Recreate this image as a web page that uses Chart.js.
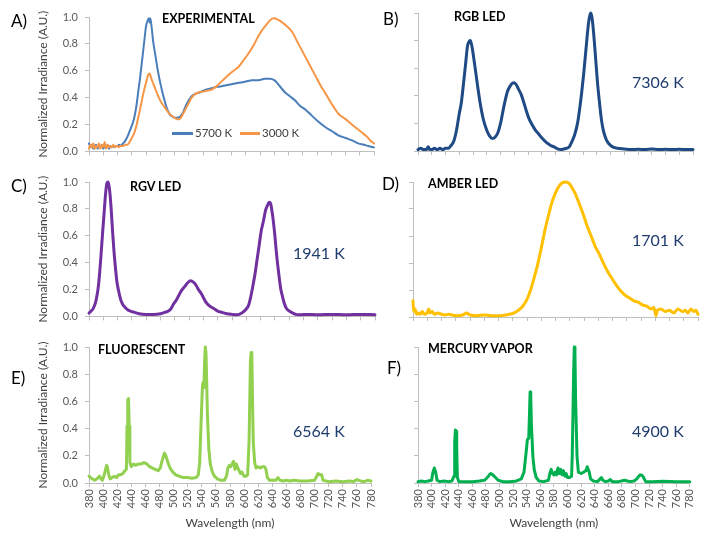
<!DOCTYPE html>
<html>
<head>
<meta charset="utf-8">
<script src="https://cdn.jsdelivr.net/npm/chart.js@4.4.1/dist/chart.umd.min.js"></script>
<style>
  body { margin: 0; background: #fff; }
  #wrap { position: relative; width: 705px; height: 540px; overflow: hidden; font-family: Lato, "Open Sans", sans-serif; }
  canvas { position: absolute; }
  .t { position: absolute; white-space: nowrap; line-height: 1; }
  .tag { font-size: 17px; color: #000; }
  .name { font-size: 12.5px; font-weight: bold; color: #000; }
  .cct { font-size: 16px; color: #1f3c6e; }
  .leg { font-size: 11.5px; color: #404040; }
  .sw { position: absolute; height: 3px; }
</style>
</head>
<body>
<div id="wrap">
  <canvas id="cA" width="390" height="165" style="left:0;top:0"></canvas>
  <canvas id="cB" width="345" height="165" style="left:360px;top:0"></canvas>
  <canvas id="cC" width="390" height="165" style="left:0;top:165px"></canvas>
  <canvas id="cD" width="345" height="165" style="left:360px;top:165px"></canvas>
  <canvas id="cE" width="390" height="210" style="left:0;top:330px"></canvas>
  <canvas id="cF" width="345" height="210" style="left:360px;top:330px"></canvas>

  <div class="t tag" style="left:11px;top:12px">A)</div>
  <div class="t tag" style="left:383px;top:10px">B)</div>
  <div class="t tag" style="left:11px;top:177px">C)</div>
  <div class="t tag" style="left:382px;top:175px">D)</div>
  <div class="t tag" style="left:11px;top:369px">E)</div>
  <div class="t tag" style="left:387px;top:359px">F)</div>

  <div class="t name" style="left:162px;top:13px">EXPERIMENTAL</div>
  <div class="t name" style="left:454px;top:11px">RGB LED</div>
  <div class="t name" style="left:130px;top:181px">RGV LED</div>
  <div class="t name" style="left:428px;top:178px">AMBER LED</div>
  <div class="t name" style="left:98px;top:344px">FLUORESCENT</div>
  <div class="t name" style="left:428px;top:343px">MERCURY VAPOR</div>

  <div class="t cct" style="left:632px;top:74px">7306 K</div>
  <div class="t cct" style="left:293px;top:245px">1941 K</div>
  <div class="t cct" style="left:632px;top:232px">1701 K</div>
  <div class="t cct" style="left:293px;top:423px">6564 K</div>
  <div class="t cct" style="left:632px;top:423px">4900 K</div>

  <div class="sw" style="left:172px;top:132px;width:21px;background:#4a7ebb"></div>
  <div class="t leg" style="left:195px;top:127px">5700 K</div>
  <div class="sw" style="left:240px;top:132px;width:20px;background:#f79646"></div>
  <div class="t leg" style="left:262px;top:127px">3000 K</div>
</div>
<script>
// wavelengths in nm, irradiance normalised to 1

// A) experimental lamp, 5700 K
const wlA5700 = [
  380, 382, 384, 386, 388, 390, 392, 394, 396, 398,
  400, 402, 404, 406, 408, 410, 412, 414, 416, 418,
  420, 422, 424, 426, 428, 431, 434, 437, 440, 443,
  446, 449, 452, 455, 458, 460, 462, 464, 465, 466,
  468, 470, 473, 476, 480, 484, 487, 490, 494, 497,
  500, 504, 508, 512, 515, 520, 524, 530, 536, 544,
  552, 560, 571, 580, 590, 600, 609, 618, 627, 634,
  640, 644, 650, 655, 662, 669, 676, 684, 692, 702,
  712, 721, 730, 740, 750, 758, 766, 772, 780
];
const irrA5700 = [
  0.06, 0.03, 0.05, 0.02, 0.04, 0.05, 0.02, 0.04, 0.03, 0.05,
  0.02, 0.04, 0.03, 0.05, 0.02, 0.04, 0.03, 0.04, 0.03, 0.04,
  0.04, 0.05, 0.04, 0.05, 0.06, 0.08, 0.11, 0.15, 0.19, 0.24,
  0.32, 0.44, 0.56, 0.70, 0.84, 0.93, 0.97, 0.99, 0.96, 0.99,
  0.92, 0.82, 0.72, 0.62, 0.51, 0.42, 0.36, 0.31, 0.27, 0.26,
  0.25, 0.25, 0.26, 0.29, 0.33, 0.38, 0.41, 0.43, 0.44, 0.46,
  0.47, 0.48, 0.49, 0.50, 0.51, 0.52, 0.53, 0.53, 0.54, 0.54,
  0.53, 0.51, 0.47, 0.44, 0.41, 0.38, 0.34, 0.31, 0.27, 0.22,
  0.18, 0.15, 0.12, 0.10, 0.08, 0.06, 0.05, 0.04, 0.03
];

// A) experimental lamp, 3000 K
const wlA3000 = [
  380, 382, 384, 386, 388, 390, 392, 394, 396, 398,
  400, 402, 404, 406, 408, 410, 412, 414, 416, 418,
  420, 422, 424, 426, 428, 431, 434, 437, 440, 443,
  446, 449, 452, 455, 458, 461, 463, 465, 467, 469,
  472, 475, 478, 482, 486, 490, 495, 500, 504, 507,
  511, 515, 520, 524, 530, 536, 544, 552, 558, 564,
  570, 576, 583, 590, 597, 604, 611, 618, 624, 630,
  635, 639, 645, 651, 658, 665, 672, 679, 688, 698,
  705, 712, 721, 730, 740, 749, 756, 763, 770, 775,
  780
];
const irrA3000 = [
  0.02, 0.05, 0.03, 0.06, 0.02, 0.04, 0.03, 0.06, 0.02, 0.05,
  0.03, 0.07, 0.02, 0.05, 0.03, 0.04, 0.03, 0.05, 0.03, 0.04,
  0.04, 0.03, 0.04, 0.04, 0.04, 0.05, 0.05, 0.07, 0.10, 0.13,
  0.18, 0.25, 0.32, 0.40, 0.47, 0.53, 0.57, 0.58, 0.55, 0.52,
  0.48, 0.44, 0.40, 0.36, 0.33, 0.30, 0.27, 0.25, 0.24, 0.24,
  0.27, 0.31, 0.36, 0.40, 0.43, 0.44, 0.45, 0.46, 0.48, 0.51,
  0.54, 0.57, 0.60, 0.63, 0.68, 0.73, 0.79, 0.86, 0.91, 0.95,
  0.98, 0.99, 0.98, 0.96, 0.93, 0.89, 0.82, 0.75, 0.66, 0.56,
  0.49, 0.43, 0.35, 0.28, 0.24, 0.20, 0.17, 0.14, 0.11, 0.08,
  0.06
];

// B) RGB LED
const wlRGB = [
  380, 384, 388, 392, 395, 397, 400, 404, 408, 412,
  416, 420, 424, 428, 432, 436, 440, 443, 446, 449,
  452, 454, 456, 458, 460, 462, 464, 467, 471, 475,
  480, 484, 488, 492, 496, 500, 504, 507, 510, 514,
  517, 520, 523, 526, 530, 534, 537, 541, 546, 551,
  556, 561, 567, 573, 578, 583, 588, 592, 596, 600,
  604, 608, 612, 615, 618, 621, 624, 627, 629, 631,
  633, 635, 637, 639, 641, 644, 647, 650, 654, 658,
  663, 670, 680, 690, 700, 710, 720, 730, 740, 750,
  760, 770, 780
];
const irrRGB = [
  0.01, 0.02, 0.01, 0.01, 0.03, 0.01, 0.01, 0.02, 0.01, 0.02,
  0.01, 0.02, 0.02, 0.04, 0.07, 0.15, 0.27, 0.35, 0.48, 0.62,
  0.76, 0.79, 0.80, 0.77, 0.71, 0.64, 0.57, 0.46, 0.33, 0.23,
  0.15, 0.11, 0.09, 0.10, 0.13, 0.20, 0.30, 0.37, 0.43, 0.47,
  0.49, 0.495, 0.48, 0.45, 0.41, 0.35, 0.30, 0.24, 0.19, 0.15,
  0.12, 0.09, 0.06, 0.04, 0.03, 0.015, 0.01, 0.015, 0.02, 0.03,
  0.07, 0.12, 0.20, 0.30, 0.42, 0.56, 0.72, 0.88, 0.96, 1.0,
  0.97, 0.88, 0.76, 0.63, 0.50, 0.35, 0.22, 0.14, 0.08, 0.05,
  0.03, 0.02, 0.015, 0.01, 0.012, 0.01, 0.015, 0.01, 0.012, 0.01,
  0.012, 0.01, 0.01
];

// C) RGV LED
const wlRGV = [
  380, 383, 386, 389, 391, 393, 395, 397, 399, 401,
  403, 405, 407, 409, 411, 413, 415, 417, 419, 421,
  424, 427, 430, 434, 438, 444, 450, 460, 470, 480,
  486, 491, 495, 498, 502, 505, 509, 512, 515, 518,
  522, 526, 530, 533, 537, 540, 543, 548, 554, 560,
  566, 573, 580, 586, 590, 595, 599, 603, 606, 609,
  612, 615, 618, 621, 624, 627, 630, 632, 634, 636,
  638, 640, 642, 644, 646, 648, 651, 653, 656, 660,
  665, 669, 675, 685, 700, 720, 740, 760, 780
];
const irrRGV = [
  0.025, 0.04, 0.06, 0.10, 0.15, 0.22, 0.33, 0.47, 0.62, 0.76,
  0.90, 0.99, 1.0, 0.93, 0.80, 0.63, 0.48, 0.36, 0.26, 0.20,
  0.13, 0.09, 0.07, 0.05, 0.04, 0.03, 0.02, 0.015, 0.015, 0.02,
  0.03, 0.04, 0.06, 0.09, 0.12, 0.15, 0.19, 0.21, 0.23, 0.25,
  0.265, 0.255, 0.23, 0.20, 0.17, 0.14, 0.11, 0.08, 0.06, 0.04,
  0.03, 0.02, 0.015, 0.012, 0.015, 0.03, 0.05, 0.08, 0.14, 0.22,
  0.31, 0.42, 0.53, 0.64, 0.71, 0.79, 0.83, 0.85, 0.84, 0.78,
  0.70, 0.60, 0.48, 0.38, 0.29, 0.21, 0.14, 0.10, 0.06, 0.04,
  0.025, 0.015, 0.012, 0.015, 0.012, 0.015, 0.012, 0.015, 0.012
];

// D) amber LED
const wlAmber = [
  380, 381, 383, 385, 388, 390, 393, 396, 400, 402,
  404, 407, 410, 415, 420, 425, 430, 440, 450, 455,
  460, 470, 480, 490, 500, 510, 516, 522, 528, 534,
  540, 545, 550, 555, 560, 565, 570, 575, 580, 585,
  590, 595, 599, 603, 608, 614, 619, 624, 630, 636,
  642, 648, 654, 660, 666, 672, 678, 684, 690, 696,
  702, 708, 714, 718, 721, 723, 728, 734, 740, 746,
  752, 758, 762, 766, 770, 774, 777, 780
];
const irrAmber = [
  0.12, 0.04, 0.06, 0.02, 0.03, 0.02, 0.04, 0.02, 0.03, 0.06,
  0.03, 0.04, 0.02, 0.03, 0.02, 0.015, 0.02, 0.01, 0.015, 0.03,
  0.015, 0.01, 0.015, 0.01, 0.01, 0.015, 0.02, 0.03, 0.05, 0.08,
  0.13, 0.20, 0.29, 0.39, 0.51, 0.64, 0.75, 0.85, 0.92, 0.97,
  0.995, 1.0, 0.99, 0.96, 0.91, 0.83, 0.76, 0.68, 0.60, 0.52,
  0.46, 0.39, 0.33, 0.28, 0.23, 0.19, 0.16, 0.14, 0.12, 0.11,
  0.09, 0.08, 0.06, 0.07, 0.01, 0.05, 0.06, 0.04, 0.05, 0.03,
  0.06, 0.04, 0.05, 0.03, 0.06, 0.04, 0.05, 0.02
];

// E) fluorescent
const wlFluo = [
  380, 382, 385, 388, 391, 393, 395, 397, 399, 401,
  403, 405, 406, 408, 410, 413, 416, 419, 422, 425,
  428, 431, 433, 434, 435, 436, 437, 438, 440, 443,
  446, 450, 454, 458, 462, 466, 470, 474, 478, 481,
  484, 487, 489, 492, 495, 499, 503, 508, 514, 520,
  526, 532, 535, 537, 539, 541, 542, 543, 544, 545,
  546, 548, 550, 552, 555, 558, 562, 567, 572, 575,
  577, 579, 581, 583, 585, 587, 589, 591, 593, 595,
  597, 600, 603, 605, 607, 609, 610, 611, 612, 613,
  615, 617, 620, 623, 626, 629, 631, 633, 636, 640,
  645, 648, 651, 655, 660, 665, 670, 680, 690, 700,
  703, 705, 708, 710, 712, 720, 730, 740, 750, 755,
  760, 765, 770, 775, 780
];
const irrFluo = [
  0.05, 0.04, 0.03, 0.02, 0.03, 0.04, 0.05, 0.03, 0.02, 0.05,
  0.09, 0.13, 0.12, 0.06, 0.03, 0.04, 0.05, 0.04, 0.06, 0.06,
  0.07, 0.09, 0.10, 0.42, 0.61, 0.62, 0.42, 0.15, 0.12, 0.14,
  0.13, 0.14, 0.14, 0.15, 0.14, 0.12, 0.11, 0.10, 0.09, 0.11,
  0.17, 0.22, 0.20, 0.15, 0.11, 0.08, 0.06, 0.05, 0.04, 0.04,
  0.035, 0.04, 0.06, 0.15, 0.45, 0.72, 0.74, 0.70, 0.90, 1.0,
  0.95, 0.50, 0.25, 0.14, 0.08, 0.05, 0.03, 0.02, 0.02, 0.05,
  0.11, 0.13, 0.12, 0.14, 0.16, 0.10, 0.14, 0.11, 0.09, 0.07,
  0.08, 0.05, 0.05, 0.06, 0.30, 0.90, 0.96, 0.93, 0.60, 0.30,
  0.15, 0.11, 0.12, 0.11, 0.12, 0.12, 0.10, 0.04, 0.02, 0.02,
  0.02, 0.04, 0.02, 0.015, 0.02, 0.015, 0.02, 0.015, 0.015, 0.02,
  0.05, 0.07, 0.06, 0.06, 0.02, 0.01, 0.015, 0.01, 0.015, 0.01,
  0.025, 0.015, 0.01, 0.02, 0.015
];

// F) mercury vapor
const wlHg = [
  380, 385, 390, 395, 400, 402, 404, 405, 406, 408,
  412, 418, 425, 430, 433, 434, 435, 436, 437, 438,
  440, 450, 460, 470, 478, 482, 485, 487, 490, 494,
  498, 505, 515, 525, 532, 536, 539, 541, 543, 544,
  545, 546, 547, 549, 551, 554, 558, 565, 572, 574,
  576, 578, 580, 582, 584, 586, 588, 590, 592, 594,
  596, 598, 600, 603, 606, 607, 609, 610, 611, 612,
  614, 616, 620, 624, 627, 629, 630, 632, 634, 638,
  644, 648, 650, 652, 656, 660, 663, 666, 675, 684,
  688, 692, 698, 702, 705, 707, 710, 712, 715, 725,
  740, 760, 780
];
const irrHg = [
  0.01, 0.015, 0.01, 0.015, 0.02, 0.08, 0.11, 0.11, 0.08, 0.02,
  0.01, 0.015, 0.01, 0.015, 0.05, 0.30, 0.39, 0.38, 0.25, 0.04,
  0.01, 0.01, 0.01, 0.015, 0.02, 0.04, 0.06, 0.07, 0.06, 0.04,
  0.02, 0.01, 0.01, 0.015, 0.03, 0.08, 0.22, 0.32, 0.33, 0.50,
  0.67, 0.62, 0.42, 0.20, 0.10, 0.04, 0.015, 0.01, 0.02, 0.07,
  0.10, 0.07, 0.06, 0.08, 0.06, 0.11, 0.07, 0.10, 0.06, 0.09,
  0.05, 0.07, 0.04, 0.04, 0.05, 0.20, 0.80, 1.0, 0.95, 0.60,
  0.20, 0.08, 0.07, 0.08, 0.09, 0.12, 0.12, 0.08, 0.03, 0.015,
  0.01, 0.03, 0.04, 0.02, 0.01, 0.015, 0.025, 0.01, 0.01, 0.02,
  0.015, 0.01, 0.015, 0.03, 0.05, 0.06, 0.055, 0.04, 0.01, 0.01,
  0.012, 0.01, 0.01
];

Chart.defaults.font.family = 'Lato';
const axisGrey = '#bfbfbf';

function series(wl, vals, color, width, smooth, order) {
  return {
    data: wl.map((x, i) => ({ x: x, y: vals[i] })),
    borderColor: color,
    borderWidth: width,
    fill: false,
    pointRadius: 0,
    cubicInterpolationMode: smooth ? 'monotone' : 'default',
    tension: 0,
    order: order || 0,
    clip: 4
  };
}

// box: padding around the plot and the fixed axis sizes, so the plot lands where the figure has it
function panel(id, sets, box) {
  return new Chart(document.getElementById(id), {
    type: 'line',
    data: { datasets: sets },
    options: {
      responsive: false,
      animation: false,
      events: [],
      layout: { padding: { left: box.left, right: box.right, top: box.top, bottom: 0 } },
      plugins: { legend: { display: false }, tooltip: { enabled: false } },
      elements: { line: { borderJoinStyle: 'round', borderCapStyle: 'round' } },
      scales: {
        x: {
          type: 'linear',
          min: 380,
          max: 780,
          afterFit: function (s) { s.height = box.xh; },
          grid: { drawOnChartArea: false, tickLength: 4, color: axisGrey },
          border: { color: axisGrey },
          ticks: {
            stepSize: 20, autoSkip: false, display: box.xlab,
            minRotation: 90, maxRotation: 90, padding: 2,
            color: '#595959', font: { size: 11 }
          },
          title: {
            display: box.xlab, text: 'Wavelength (nm)', color: '#404040',
            font: { size: 12 }, padding: { top: 2, bottom: 10 }
          }
        },
        y: {
          min: 0,
          max: 1,
          afterFit: function (s) { s.width = box.yw; },
          grid: { drawOnChartArea: false, tickLength: 4, color: axisGrey },
          border: { color: axisGrey },
          ticks: {
            stepSize: 0.2, display: box.ylab, padding: 7,
            color: '#595959', font: { size: 11 },
            callback: v => v.toFixed(1)
          },
          title: {
            display: box.ylab, text: 'Normalized Irradiance (A.U.)',
            color: '#404040', font: { size: 12 }
          }
        }
      }
    }
  });
}

panel('cA', [
  series(wlA5700, irrA5700, '#4a7ebb', 2, true, 2),
  series(wlA3000, irrA3000, '#f79646', 2, true, 1)
], { left: 32, yw: 57, right: 16, top: 17, xh: 13, ylab: true, xlab: false });

panel('cB', [series(wlRGB, irrRGB, '#1f4a85', 3, true)],
  { left: 0, yw: 58, right: 12, top: 13, xh: 14, ylab: false, xlab: false });

panel('cC', [series(wlRGV, irrRGV, '#7030a0', 3, true)],
  { left: 32, yw: 57, right: 15, top: 17, xh: 13, ylab: true, xlab: false });

panel('cD', [series(wlAmber, irrAmber, '#ffc000', 3, true)],
  { left: 0, yw: 53, right: 7, top: 17, xh: 13, ylab: false, xlab: false });

panel('cE', [series(wlFluo, irrFluo, '#92d050', 3, false)],
  { left: 32, yw: 57, right: 19, top: 17, xh: 57, ylab: true, xlab: true });

panel('cF', [series(wlHg, irrHg, '#00b050', 3, false)],
  { left: 0, yw: 58, right: 13, top: 17, xh: 57, ylab: false, xlab: true });
</script>
</body>
</html>
